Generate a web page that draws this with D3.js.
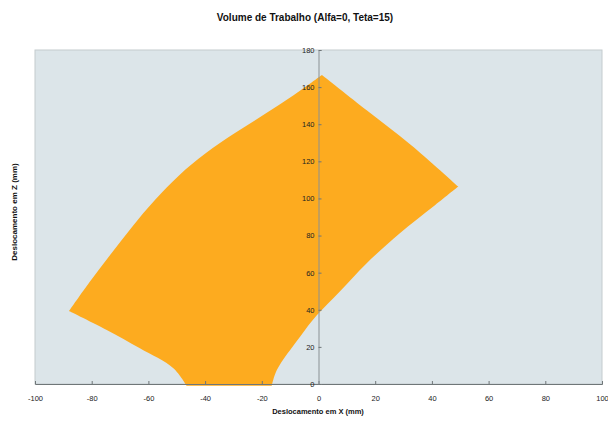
<!DOCTYPE html>
<html>
<head>
<meta charset="utf-8">
<script src="https://cdn.jsdelivr.net/npm/d3@7"></script>
<style>
  html, body { margin: 0; padding: 0; background: #ffffff; }
  svg { display: block; }
  text { font-family: "Liberation Sans", Arial, sans-serif; }
</style>
</head>
<body>
<svg id="chart" width="608" height="421"></svg>
<script>
// Workspace boundary (X, Z in mm), one array pair per edge, traced clockwise
const upperLeftX  = [-88.0, -80.8, -73.3, -65.7, -57.7, -49.2, -39.8, -29.6, -19.2, -8.8, 1.2];
const upperLeftZ  = [39.3, 54.8, 69.9, 84.8, 99.1, 112.4, 124.3, 135.1, 145.2, 155.6, 166.5];
const upperRightX = [1.2, 17, 32.5, 49.3];
const upperRightZ = [166.5, 147.5, 129, 106.4];
const lowerRightX = [49.3, 40.5, 28.7, 17.0, 7.6, -0.6, -6.5, -14.7, -16.5];
const lowerRightZ = [106.4, 95.6, 81.2, 65.1, 50, 37, 25.5, 7.5, -1];
const lowerLeftX  = [-16.5, -46.5];
const lowerLeftZ  = [-1, -1];
const leftSideX   = [-46.5, -51.2, -63, -74.7, -88.0];
const leftSideZ   = [-1, 8.5, 19.2, 29.1, 39.3];

const xTicks = [-100, -80, -60, -40, -20, 0, 20, 40, 60, 80, 100];
const zTicks = [0, 20, 40, 60, 80, 100, 120, 140, 160, 180];

const title = "Volume de Trabalho (Alfa=0, Teta=15)";
const xTitle = "Deslocamento em X (mm)";
const zTitle = "Deslocamento em Z (mm)";

const svg = d3.select("#chart");
const plot = { left: 35, right: 602, top: 50, bottom: 384 };

const x = d3.scaleLinear().domain([-100, 100]).range([plot.left, plot.right]);
const z = d3.scaleLinear().domain([0, 180]).range([plot.bottom, plot.top]);

// plot area background
svg.append("rect")
  .attr("x", plot.left).attr("y", plot.top)
  .attr("width", plot.right - plot.left).attr("height", plot.bottom - plot.top)
  .attr("fill", "#dce5e9")
  .attr("stroke", "#c4cbce").attr("stroke-width", 1);

// filled workspace region: each edge is a smooth curve, joined into one outline
const edges = [
  [upperLeftX, upperLeftZ],
  [upperRightX, upperRightZ],
  [lowerRightX, lowerRightZ],
  [lowerLeftX, lowerLeftZ],
  [leftSideX, leftSideZ]
];
const edgeLine = d3.line().x(d => x(d[0])).y(d => z(d[1])).curve(d3.curveCatmullRom.alpha(0.5));
const outline = edges.map(([xs, zs], i) => {
  const d = edgeLine(xs.map((v, j) => [v, zs[j]]));
  return i === 0 ? d : "L" + d.slice(1);
}).join("") + "Z";
svg.append("path")
  .attr("d", outline)
  .attr("fill", "#fdab1f");

// plain hyphen-minus labels
const plainNum = d => String(d);

// X axis along Z = 0
const xAxis = d3.axisBottom(x).tickValues(xTicks).tickSize(-3).tickPadding(12)
  .tickFormat(plainNum);
const gx = svg.append("g").attr("transform", `translate(0,${z(0)})`).call(xAxis);
gx.select(".domain").attr("stroke", "#6f7678");
gx.selectAll(".tick line").attr("stroke", "#6f7678");
gx.selectAll(".tick text").attr("font-size", 7.5).attr("fill", "#222");

// Z axis along X = 0
const zAxis = d3.axisLeft(z).tickValues(zTicks).tickSize(-3).tickPadding(4)
  .tickFormat(plainNum);
const gz = svg.append("g").attr("transform", `translate(${x(0)},0)`).call(zAxis);
gz.select(".domain").attr("stroke", "#8a9194");
gz.selectAll(".tick line").attr("stroke", "#6f7678");
gz.selectAll(".tick text").attr("font-size", 7.5).attr("fill", "#222");

// titles
svg.append("text")
  .attr("x", 305).attr("y", 21)
  .attr("text-anchor", "middle")
  .attr("font-size", 10).attr("font-weight", "bold").attr("fill", "#111")
  .text(title);

svg.append("text")
  .attr("x", 318).attr("y", 414)
  .attr("text-anchor", "middle")
  .attr("font-size", 7.5).attr("font-weight", "bold").attr("fill", "#111")
  .text(xTitle);

svg.append("text")
  .attr("transform", "translate(17,212) rotate(-90)")
  .attr("text-anchor", "middle")
  .attr("font-size", 8).attr("font-weight", "bold").attr("fill", "#111")
  .text(zTitle);
</script>
</body>
</html>
